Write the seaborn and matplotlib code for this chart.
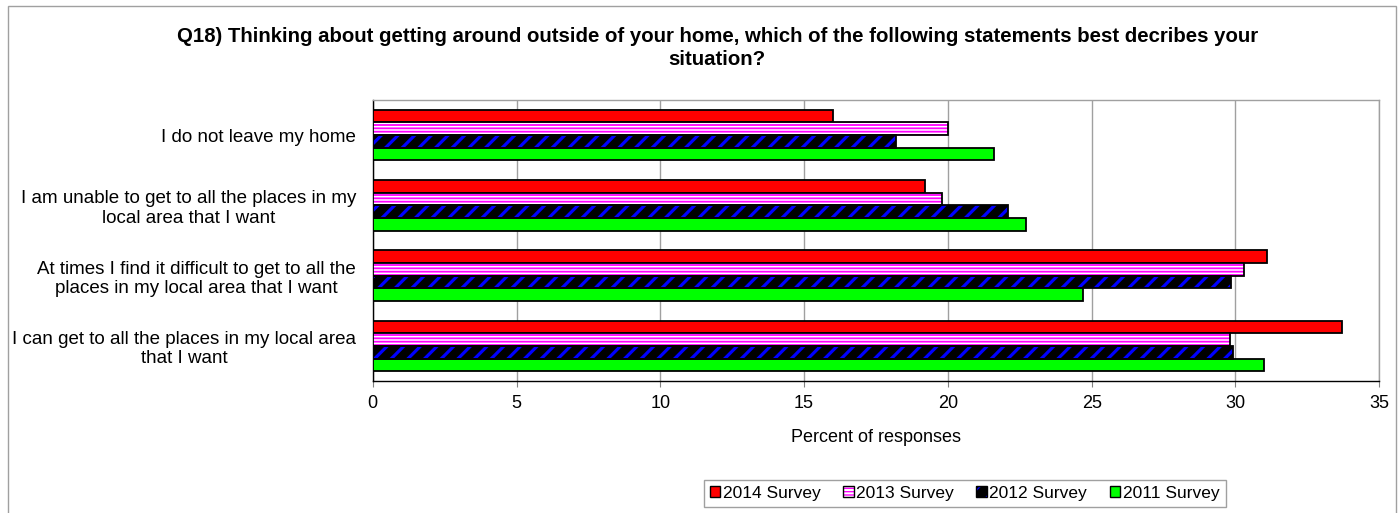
"""Recreate the Q18 getting-around survey chart."""

import pandas as pd
import seaborn as sns
import matplotlib.pyplot as plt
from matplotlib.patches import Patch, Rectangle
from matplotlib.legend_handler import HandlerTuple

TITLE = ("Q18) Thinking about getting around outside of your home, which of the following "
         "statements best decribes your\nsituation?")
CATEGORIES = [
    "I do not leave my home",
    "I am unable to get to all the places in my\nlocal area that I want",
    "At times I find it difficult to get to all the\nplaces in my local area that I want",
    "I can get to all the places in my local area\nthat I want",
]
SURVEYS = ["2014 Survey", "2013 Survey", "2012 Survey", "2011 Survey"]
VALUES_2014 = [16.0, 19.2, 31.1, 33.7]
VALUES_2013 = [20.0, 19.8, 30.3, 29.8]
VALUES_2012 = [18.2, 22.1, 29.85, 29.9]
VALUES_2011 = [21.6, 22.7, 24.7, 31.0]
X_TICKS = [0, 5, 10, 15, 20, 25, 30, 35]

# face colour, hatch, hatch colour per survey
STYLES = {
    "2014 Survey": ("#FF0000", None, None),
    "2013 Survey": ("#FFFFFF", "-----", "#FF00FF"),
    "2012 Survey": ("#000000", "//", "#0000FF"),
    "2011 Survey": ("#00FF00", None, None),
}
HATCH_LW = {"2013 Survey": 1.3, "2012 Survey": 2.3}


def with_hatch_lw(patch, lw):
    """Give one patch its own hatch line width."""
    if hasattr(patch, "set_hatch_linewidth"):
        patch.set_hatch_linewidth(lw)
    orig = patch.draw

    def draw(renderer, orig=orig):
        with plt.rc_context({"hatch.linewidth": lw}):
            orig(renderer)
    patch.draw = draw


rows = []
for survey, vals in zip(SURVEYS, [VALUES_2014, VALUES_2013, VALUES_2012, VALUES_2011]):
    for cat, v in zip(CATEGORIES, vals):
        rows.append({"category": cat, "survey": survey, "value": v})
df = pd.DataFrame(rows)

sns.set_style("white")
plt.rcParams["font.family"] = ["Liberation Sans", "DejaVu Sans"]
plt.rcParams["text.color"] = "black"
plt.rcParams["xtick.labelcolor"] = "black"
plt.rcParams["ytick.labelcolor"] = "black"
plt.rcParams["axes.labelcolor"] = "black"

fig = plt.figure(figsize=(13.98, 5.13), dpi=100)
ax = fig.add_axes([0.2666, 0.2573, 0.72, 0.5478])

sns.barplot(data=df, x="value", y="category", hue="survey", order=CATEGORIES,
            hue_order=SURVEYS, palette=[STYLES[s][0] for s in SURVEYS], orient="h",
            width=0.72, saturation=1, errorbar=None, edgecolor="black", linewidth=1.3,
            legend=False, ax=ax, zorder=3)

for survey, container in zip(SURVEYS, ax.containers):
    face, hatch, hcol = STYLES[survey]
    if hatch is None:
        continue
    for bar in container:
        bar.set_facecolor(face)
        bar.set_edgecolor(hcol)
        bar.set_linewidth(0)
        bar.set_hatch(hatch)
        with_hatch_lw(bar, HATCH_LW[survey])
        ax.add_patch(Rectangle(bar.get_xy(), bar.get_width(), bar.get_height(),
                               fill=False, edgecolor="black", linewidth=1.3, zorder=4))

ax.set_xlim(0, 35)
ax.set_xticks(X_TICKS)
ax.set_xlabel("Percent of responses", fontsize=13, labelpad=12, color="black")
ax.set_ylabel("")
ax.xaxis.grid(True, color="#A0A0A0", linewidth=1)
ax.set_axisbelow(True)
ax.tick_params(axis="x", labelsize=13, length=4, color="#808080", direction="out",
               pad=6, bottom=True, labelcolor="black")
ax.tick_params(axis="y", labelsize=13.5, length=0, pad=12, labelcolor="black")
for t in ax.get_yticklabels():
    t.set_multialignment("center")
for side in ("top", "right"):
    ax.spines[side].set_color("#A0A0A0")
    ax.spines[side].set_linewidth(1)
for side in ("left", "bottom"):
    ax.spines[side].set_color("black")
    ax.spines[side].set_linewidth(1)

fig.text(0.513, 0.906, TITLE, ha="center", va="center", fontsize=14.7,
         fontweight="bold", linespacing=1.3, color="black")

handles = []
for survey in SURVEYS:
    face, hatch, hcol = STYLES[survey]
    base = Patch(facecolor=face, edgecolor=hcol if hcol else face, hatch=hatch, linewidth=0)
    edge = Patch(facecolor="none", edgecolor="black", linewidth=1)
    handles.append((base, edge))
fig.legend(handles, SURVEYS, handler_map={tuple: HandlerTuple(ndivide=1)},
           loc="center", bbox_to_anchor=(0.690, 0.038), ncol=4, fontsize=12.5,
           frameon=True, fancybox=False, edgecolor="#A0A0A0", framealpha=1,
           handlelength=0.6, handleheight=0.6, handletextpad=0.15, columnspacing=1.3,
           borderpad=0.35)

fig.patches.append(Rectangle((8 / 1398, -0.02), (1396 - 8) / 1398, 1.02 - 5.7 / 513,
                             transform=fig.transFigure, fill=False,
                             edgecolor="#A0A0A0", linewidth=1))

fig.savefig("out.png", dpi=100)
